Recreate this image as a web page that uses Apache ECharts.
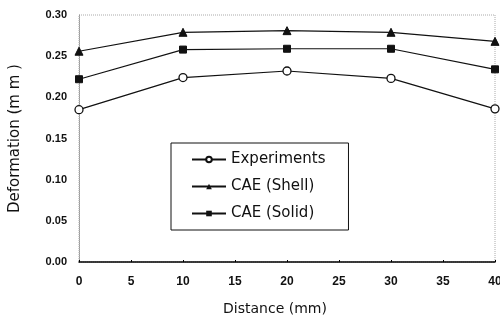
<!DOCTYPE html>
<html>
<head>
<meta charset="utf-8">
<script src="https://cdn.jsdelivr.net/npm/echarts@6/dist/echarts.min.js"></script>
<style>html,body{margin:0;padding:0;background:#fff}#c{width:500px;height:320px}</style>
</head>
<body>
<div id="c"></div>
<script>
var distances = [0, 10, 20, 30, 40];
var experiments = [0.185, 0.224, 0.232, 0.223, 0.186];
var caeShell = [0.256, 0.279, 0.281, 0.279, 0.268];
var caeSolid = [0.222, 0.258, 0.259, 0.259, 0.234];
var seriesNames = ['Experiments', 'CAE (Shell)', 'CAE (Solid)'];
var xTitle = 'Distance (mm)';
var yTitle = 'Deformation (m m )';

function pts(v) { return distances.map(function (d, i) { return [d, v[i]]; }); }

var chart = echarts.init(document.getElementById('c'), null, {renderer: 'canvas'});
var tickFont = "'Liberation Sans Narrow', 'Liberation Sans', Arial, sans-serif";
chart.setOption({
  animation: false,
  backgroundColor: '#fff',
  grid: {left: 79, right: 5, top: 15, bottom: 58, containLabel: false, outerBoundsMode: 'none',
    show: true, borderColor: '#aaa', borderWidth: 1, borderType: 'dotted'},
  xAxis: {
    type: 'value', min: 0, max: 40, interval: 5,
    name: xTitle, nameLocation: 'middle', nameGap: 40,
    nameTextStyle: {fontSize: 14, color: '#111', fontFamily: "'DejaVu Sans', sans-serif", padding: [0, 24, 0, 0]},
    axisLine: {show: true, lineStyle: {color: '#000', width: 1.5}},
    axisTick: {show: true, inside: true, length: 2, lineStyle: {color: '#000'}},
    axisLabel: {fontSize: 12, fontWeight: 'bold', color: '#111', margin: 14, fontFamily: tickFont},
    splitLine: {show: false}
  },
  yAxis: {
    type: 'value', min: 0, max: 0.30, interval: 0.05,
    name: yTitle, nameLocation: 'middle', nameGap: 56, nameRotate: 90,
    nameTextStyle: {fontSize: 15, color: '#111', fontFamily: "'DejaVu Sans', sans-serif"},
    axisLine: {show: true, lineStyle: {color: '#999', type: 'dotted'}},
    axisTick: {show: false},
    axisLabel: {fontSize: 11, fontWeight: 'bold', color: '#111', margin: 12, fontFamily: tickFont,
      formatter: function (v) { return v.toFixed(2); }},
    splitLine: {show: false}
  },
  legend: {
    orient: 'vertical', left: 171, top: 143, width: 170,
    padding: [9, 23, 9, 20], itemGap: 12, itemWidth: 34, itemHeight: 7,
    backgroundColor: '#fff', borderColor: '#111', borderWidth: 1,
    textStyle: {fontSize: 15, color: '#111', fontFamily: "'DejaVu Sans', sans-serif"},
    data: seriesNames
  },
  series: [
    {name: seriesNames[0], type: 'line', data: pts(experiments), symbol: 'circle', symbolSize: 8,
      lineStyle: {color: '#111', width: 1.2}, itemStyle: {color: '#fff', borderColor: '#111', borderWidth: 1.3}},
    {name: seriesNames[1], type: 'line', data: pts(caeShell), symbol: 'triangle', symbolSize: 8,
      lineStyle: {color: '#111', width: 1.2}, itemStyle: {color: '#111', borderColor: '#111'}},
    {name: seriesNames[2], type: 'line', data: pts(caeSolid), symbol: 'rect', symbolSize: 7,
      lineStyle: {color: '#111', width: 1.2}, itemStyle: {color: '#111', borderColor: '#111'}}
  ]
});
</script>
</body>
</html>
